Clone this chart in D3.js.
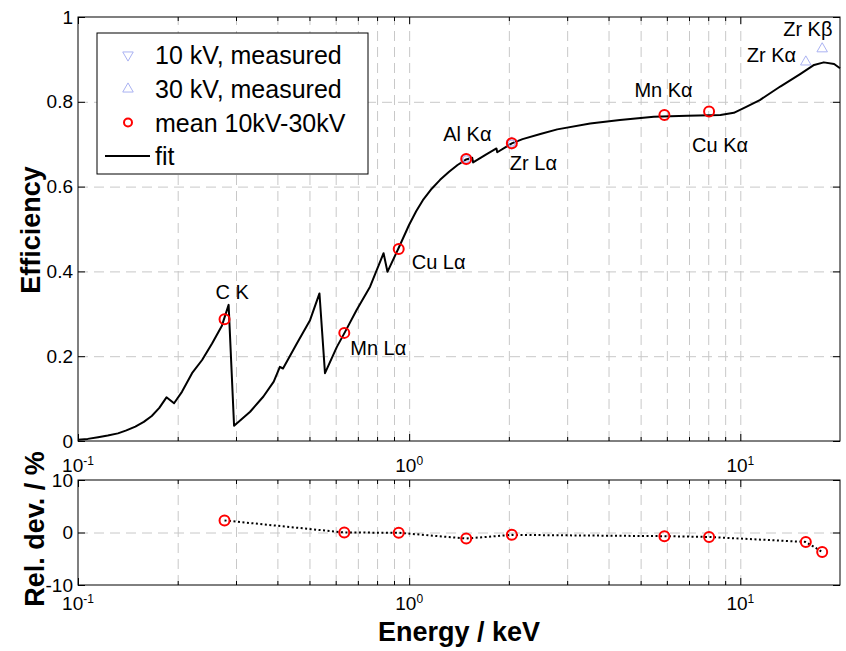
<!DOCTYPE html>
<html lang="en">
<head>
<meta charset="UTF-8">
<title>Detector efficiency</title>
<script src="https://cdnjs.cloudflare.com/ajax/libs/d3/7.8.5/d3.min.js"></script>
<style>
    body { margin: 0; background: #fff; font-family: "Liberation Sans", Arial, Helvetica, sans-serif; }
    .grid line { stroke: #c8c8c8; stroke-dasharray: 10,6; }
    .grid .domain { display: none; }
    .ticks .domain { display: none; }
    .ticks line { stroke: #000; }
</style>
</head>
<body>
<div id="chart"></div>
<script>

    // Fit curve (energy in keV, efficiency)
    const fitE   = [0.100, 0.107, 0.115, 0.123, 0.132, 0.140, 0.149, 0.158, 0.167, 0.176, 0.185, 0.195, 0.206, 0.221,
                    0.237, 0.254, 0.272, 0.285, 0.296, 0.331, 0.363, 0.390, 0.407, 0.416, 0.458, 0.502, 0.536, 0.557,
                    0.605, 0.641, 0.694, 0.762, 0.837, 0.860, 0.928, 1.00, 1.05, 1.10, 1.17, 1.24, 1.32, 1.40, 1.487,
                    1.55, 1.56, 1.70, 1.835, 1.845, 2.042, 2.20, 2.49, 2.80, 3.52, 4.33, 5.48, 6.92, 8.71, 9.56,
                    10.42, 11.45, 13.2, 15.2, 16.7, 17.87, 19.2, 20.0];
    const fitEff = [0.003, 0.005, 0.009, 0.013, 0.018, 0.025, 0.034, 0.045, 0.059, 0.078, 0.103, 0.089, 0.116, 0.160,
                    0.191, 0.230, 0.272, 0.321, 0.036, 0.069, 0.105, 0.140, 0.175, 0.171, 0.230, 0.285, 0.348, 0.160,
                    0.222, 0.258, 0.309, 0.364, 0.443, 0.399, 0.454, 0.510, 0.542, 0.568, 0.595, 0.616, 0.635, 0.651, 0.664,
                    0.668, 0.657, 0.675, 0.690, 0.681, 0.702, 0.712, 0.724, 0.735, 0.749, 0.757, 0.765, 0.767, 0.769, 0.774,
                    0.788, 0.804, 0.836, 0.866, 0.887, 0.893, 0.889, 0.879];

    // Measured lines
    const lineNames = ['C K', 'Mn L\u03b1', 'Cu L\u03b1', 'Al K\u03b1', 'Zr L\u03b1', 'Mn K\u03b1', 'Cu K\u03b1', 'Zr K\u03b1', 'Zr K\u03b2'];
    const lineE     = [0.277, 0.637, 0.930, 1.487, 2.042, 5.899, 8.048, 15.77, 17.67];
    const meanEff   = [0.287, 0.255, 0.453, 0.665, 0.702, 0.769, 0.777, null, null];
    const kv10Eff   = [null, null, null, 0.665, 0.702, null, null, null, null];
    const kv30Eff   = [null, null, null, 0.665, 0.703, null, null, 0.894, 0.925];
    const relDev    = [2.3, 0.0, -0.05, -1.15, -0.45, -0.7, -0.85, -1.8, -3.7];

    // Ticks
    const majorX = [0.1, 1, 10];
    const minorX = [0.2, 0.3, 0.4, 0.5, 0.6, 0.7, 0.8, 0.9, 2, 3, 4, 5, 6, 7, 8, 9];
    const effTicks = [0, 0.2, 0.4, 0.6, 0.8, 1];
    const devTicks = [-10, 0, 10];

    // label offsets from each point (px)
    const labelOffset = [[-9, -20], [6, 22], [13, 20], [-23, -18], [-2, 27], [-30, -18], [-17, 40], [-59, 0], [-39, -13]];

    const width = 846, height = 651;
    const left = 78, right = 840;
    const top1 = 17, bot1 = 441;
    const top2 = 480, bot2 = 585;

    const svg = d3.select('#chart').append('svg')
        .attr('width', width)
        .attr('height', height);

    const x  = d3.scaleLog().domain([0.1, 20]).range([left, right]);
    const y  = d3.scaleLinear().domain([0, 1]).range([bot1, top1]);
    const y2 = d3.scaleLinear().domain([-10, 10]).range([bot2, top2]);

    const gridX = minorX.concat([1, 10]);

    const panel = (ys, yTicks, gridY, yt, yb) => {
        const g = svg.append('g');

        g.append('g').attr('class', 'grid')
            .attr('transform', `translate(0,${yb})`)
            .call(d3.axisBottom(x).tickValues(gridX).tickSize(-(yb - yt)).tickFormat(''));
        g.append('g').attr('class', 'grid')
            .attr('transform', `translate(${left},0)`)
            .call(d3.axisLeft(ys).tickValues(gridY).tickSize(-(right - left)).tickFormat(''));

        g.append('rect')
            .attr('x', left).attr('y', yt)
            .attr('width', right - left).attr('height', yb - yt)
            .attr('fill', 'none').attr('stroke', '#000');

        // inside ticks on all four sides
        const tk = (axis, tr) => g.append('g').attr('class', 'ticks').attr('transform', tr).call(axis);
        tk(d3.axisBottom(x).tickValues(majorX).tickSize(-7).tickFormat(''), `translate(0,${yb})`);
        tk(d3.axisBottom(x).tickValues(minorX).tickSize(-4).tickFormat(''), `translate(0,${yb})`);
        tk(d3.axisTop(x).tickValues(majorX).tickSize(-7).tickFormat(''), `translate(0,${yt})`);
        tk(d3.axisTop(x).tickValues(minorX).tickSize(-4).tickFormat(''), `translate(0,${yt})`);
        tk(d3.axisRight(ys).tickValues(yTicks).tickSize(-7).tickFormat(''), `translate(${right},0)`);

        const yl = tk(d3.axisLeft(ys).tickValues(yTicks).tickSize(-7).tickPadding(5).tickFormat(d => String(d)),
            `translate(${left},0)`);
        yl.attr('font-size', 19).attr('font-family', null);
        yl.selectAll('text').attr('fill', '#000');
    };

    const xLabels = (baseline) => {
        svg.append('g').selectAll('text')
            .data(majorX)
            .join('text')
            .attr('x', d => x(d))
            .attr('y', baseline)
            .attr('text-anchor', 'middle')
            .attr('font-size', 19)
            .each(function (d) {
                const t = d3.select(this);
                t.append('tspan').text('10');
                t.append('tspan').attr('dy', -7).attr('font-size', 12).text(Math.round(Math.log10(d)));
            });
    };

    panel(y, effTicks, [0.2, 0.4, 0.6, 0.8], top1, bot1);
    panel(y2, devTicks, [0], top2, bot2);
    xLabels(472);
    xLabels(610);

    // ---- top panel data
    const fitData = fitE.map((e, i) => ({e: e, v: fitEff[i]}));
    svg.append('path')
        .datum(fitData)
        .attr('fill', 'none')
        .attr('stroke', '#000')
        .attr('stroke-width', 2)
        .attr('stroke-linejoin', 'round')
        .attr('d', d3.line().x(d => x(d.e)).y(d => y(d.v)));

    const lines = lineE.map((e, i) => ({
        e: e, name: lineNames[i], mean: meanEff[i], kv10: kv10Eff[i], kv30: kv30Eff[i],
        dev: relDev[i], off: labelOffset[i]
    }));

    const triColor = '#aab2f2';
    const tri = d3.symbol().type(d3.symbolTriangle).size(48);

    svg.append('g').selectAll('path')
        .data(lines.filter(d => d.kv10 !== null))
        .join('path')
        .attr('d', tri)
        .attr('transform', d => `translate(${x(d.e)},${y(d.kv10)}) rotate(180)`)
        .attr('fill', 'none').attr('stroke', triColor);

    svg.append('g').selectAll('path')
        .data(lines.filter(d => d.kv30 !== null))
        .join('path')
        .attr('d', tri)
        .attr('transform', d => `translate(${x(d.e)},${y(d.kv30)})`)
        .attr('fill', 'none').attr('stroke', triColor);

    svg.append('g').selectAll('circle')
        .data(lines.filter(d => d.mean !== null))
        .join('circle')
        .attr('cx', d => x(d.e))
        .attr('cy', d => y(d.mean))
        .attr('r', 5)
        .attr('fill', 'none').attr('stroke', '#ff0000').attr('stroke-width', 2);

    svg.append('g').selectAll('text')
        .data(lines)
        .join('text')
        .attr('x', d => x(d.e) + d.off[0])
        .attr('y', d => y(d.mean !== null ? d.mean : d.kv30) + d.off[1])
        .attr('font-size', 20)
        .text(d => d.name);

    // ---- bottom panel data
    svg.append('path')
        .datum(lines)
        .attr('fill', 'none')
        .attr('stroke', '#000')
        .attr('stroke-width', 2)
        .attr('stroke-dasharray', '2,2.5')
        .attr('d', d3.line().x(d => x(d.e)).y(d => y2(d.dev)));

    svg.append('g').selectAll('circle')
        .data(lines)
        .join('circle')
        .attr('cx', d => x(d.e))
        .attr('cy', d => y2(d.dev))
        .attr('r', 5)
        .attr('fill', 'none').attr('stroke', '#ff0000').attr('stroke-width', 2);

    // ---- legend
    const lg = svg.append('g');
    lg.append('rect')
        .attr('x', 97).attr('y', 33).attr('width', 271).attr('height', 141)
        .attr('fill', '#fff').attr('stroke', '#000');
    const legendItems = ['10 kV, measured', '30 kV, measured', 'mean 10kV-30kV', 'fit'];
    const rowY = [55, 89, 122.5, 156];
    lg.selectAll('text')
        .data(legendItems)
        .join('text')
        .attr('x', 155)
        .attr('y', (d, i) => rowY[i] + 9)
        .attr('font-size', 25)
        .text(d => d);
    lg.append('path').attr('d', tri).attr('transform', `translate(128,${rowY[0]}) rotate(180)`)
        .attr('fill', 'none').attr('stroke', triColor);
    lg.append('path').attr('d', tri).attr('transform', `translate(128,${rowY[1]})`)
        .attr('fill', 'none').attr('stroke', triColor);
    lg.append('circle').attr('cx', 128).attr('cy', rowY[2]).attr('r', 4)
        .attr('fill', 'none').attr('stroke', '#ff0000').attr('stroke-width', 2);
    lg.append('line').attr('x1', 105).attr('x2', 150).attr('y1', rowY[3]).attr('y2', rowY[3])
        .attr('stroke', '#000').attr('stroke-width', 2);

    // ---- axis titles
    svg.append('text')
        .attr('transform', 'translate(40,230) rotate(-90)')
        .attr('text-anchor', 'middle')
        .attr('font-size', 27).attr('font-weight', 'bold')
        .text('Efficiency');
    svg.append('text')
        .attr('transform', 'translate(44,529) rotate(-90)')
        .attr('text-anchor', 'middle')
        .attr('font-size', 27).attr('font-weight', 'bold')
        .text('Rel. dev. / %');
    svg.append('text')
        .attr('x', 459).attr('y', 641)
        .attr('text-anchor', 'middle')
        .attr('font-size', 27).attr('font-weight', 'bold')
        .text('Energy / keV');

</script>
</body>
</html>
